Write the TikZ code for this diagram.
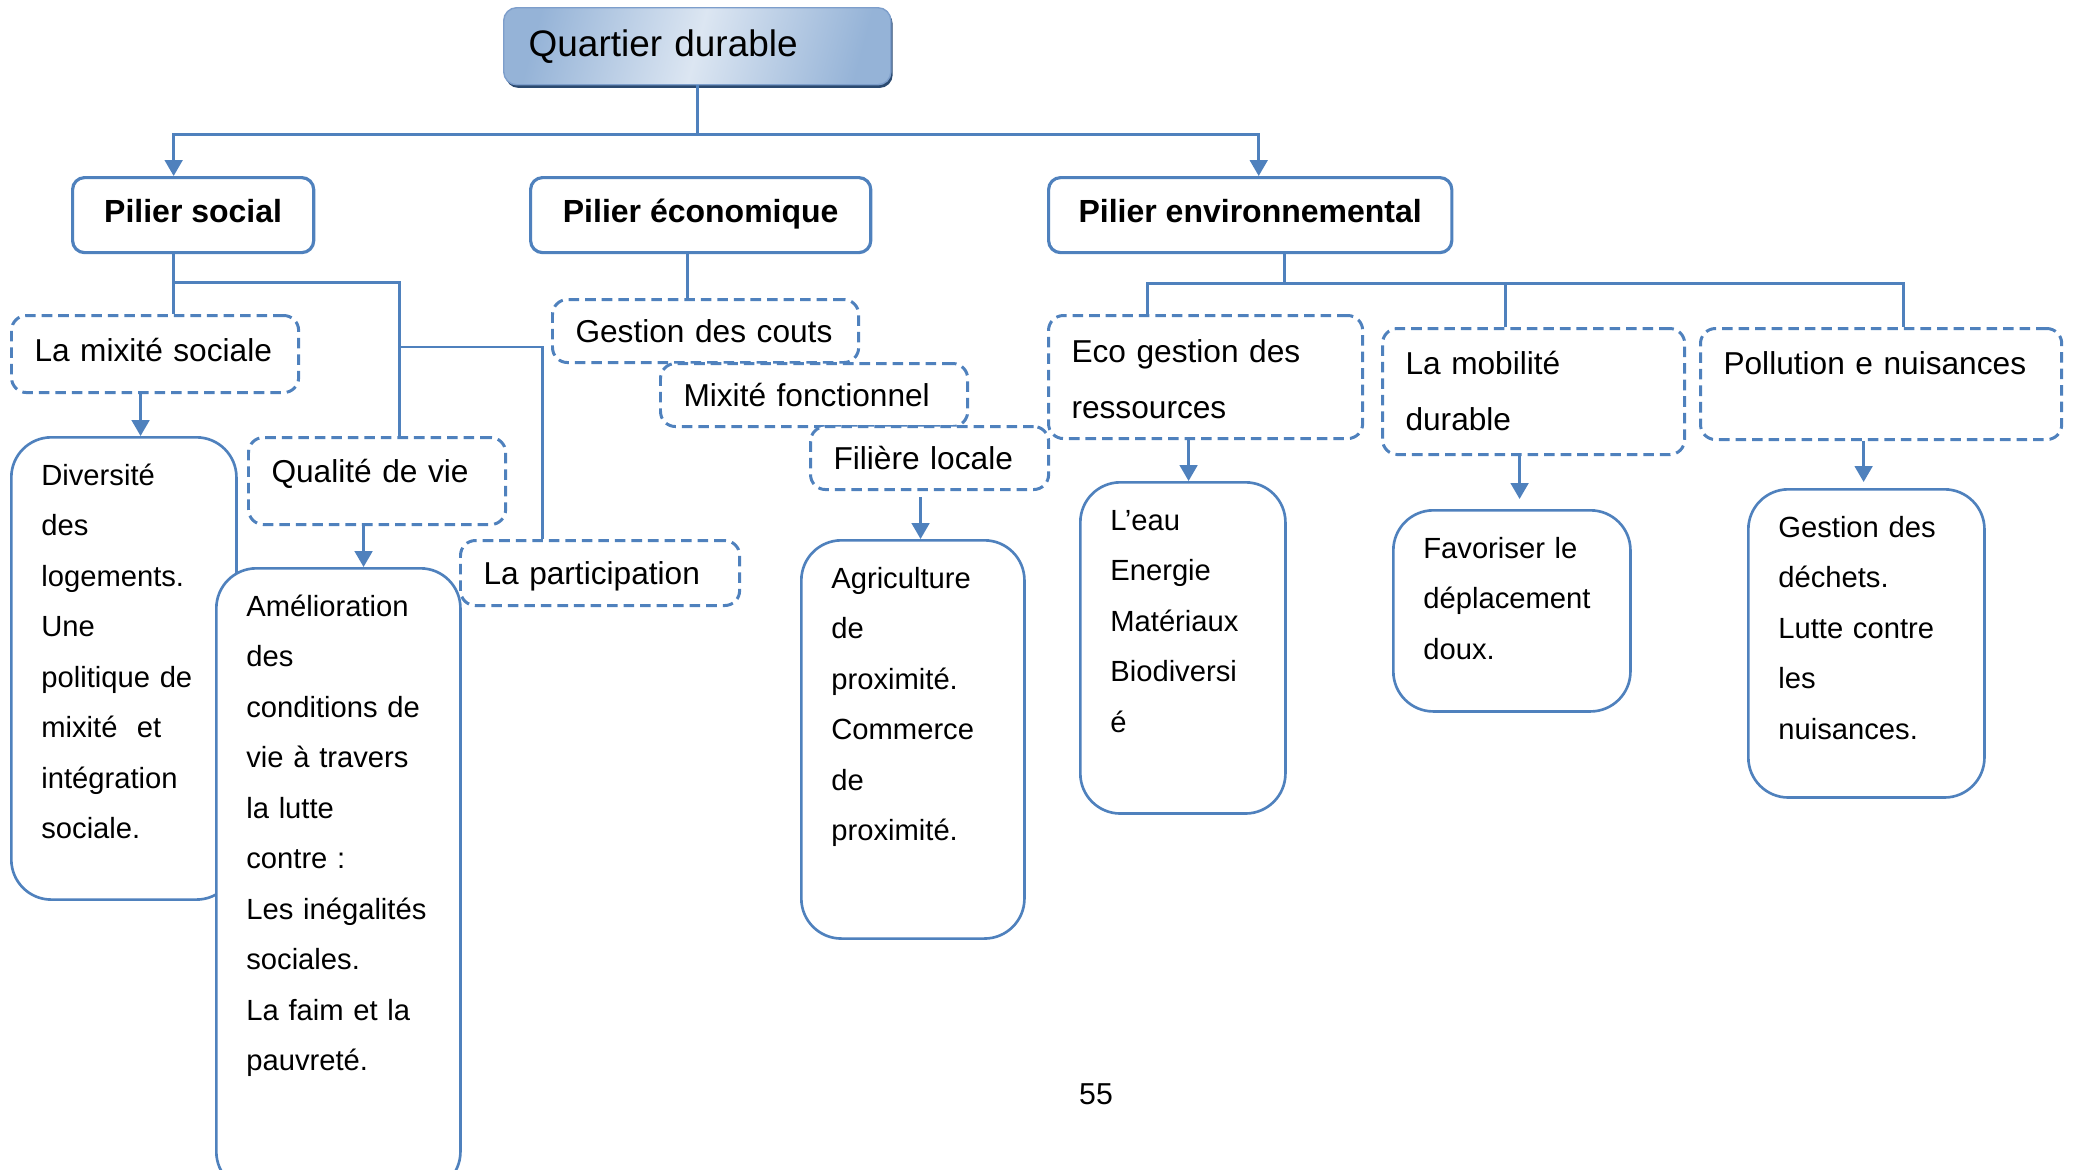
\documentclass[tikz,border=0pt]{standalone}
\usepackage{fontspec}
\setmainfont{Liberation Sans}
\usetikzlibrary{arrows.meta,shadows}
\definecolor{bleuTrait}{HTML}{4F81BD}
\definecolor{bleuClair}{HTML}{DCE6F2}
\definecolor{bleuFonce}{HTML}{95B3D7}
\definecolor{bleuOmbre}{HTML}{2B4A70}
\definecolor{bleuBord}{HTML}{7D9ECB}

\begin{document}
\begin{tikzpicture}[x=0.01cm,y=-0.01cm,
  titre/.style={draw=bleuBord,line width=0.4pt,rounded corners=0.13cm,
    left color=bleuFonce,right color=bleuFonce,middle color=bleuClair,shading angle=75,
    drop shadow={shadow xshift=0.5pt,shadow yshift=-0.9pt,fill=bleuOmbre,opacity=1},
    anchor=north west,align=left,inner xsep=0.25cm,
    font=\fontsize{10.5}{12}\selectfont},
  pilier/.style={draw=bleuTrait,line width=0.9pt,rounded corners=0.12cm,fill=white,
    anchor=north west,inner sep=0pt,text height=6.8pt,text depth=2.5pt,
    font=\fontsize{9.1}{10}\selectfont\bfseries},
  tiret/.style={draw=bleuTrait,line width=0.85pt,dash pattern=on 3pt off 1.7pt,
    rounded corners=0.15cm,fill=white,anchor=north west,align=left,
    inner xsep=0.23cm,inner ysep=0pt,text height=6.5pt,text depth=0pt,
    font=\fontsize{9}{15.8}\selectfont},
  boite/.style={draw=bleuTrait,line width=0.75pt,rounded corners=0.4cm,fill=white,
    anchor=north west,align=left,inner xsep=0.3cm,inner ysep=0.25cm,text height=0.23cm,
    font=\fontsize{8.3}{14.35}\selectfont},
  lien/.style={draw=bleuTrait,line width=0.75pt},
  fleche/.style={lien,-{Triangle[width=5pt,length=4.5pt]}}]
\useasboundingbox (0,0) rectangle (2073,1169);
\clip (0,0) rectangle (2073,1169);

\node[titre,text width=3.37cm,minimum height=0.77cm] (quart) at (503,7) {Quartier durable};

\node[pilier,minimum width=2.41cm,minimum height=0.75cm] (social) at (71,176) {Pilier social};
\node[pilier,minimum width=3.40cm,minimum height=0.75cm] (eco) at (529,176) {Pilier économique};
\node[pilier,minimum width=4.03cm,minimum height=0.75cm] (env) at (1047,176) {Pilier environnemental};

\node[tiret,text width=2.41cm,minimum height=0.77cm,text depth=2.5pt] (mixite) at (10,314) {La mixité sociale};
\node[boite,text width=1.65cm,text depth=3.89cm] (divers) at (10,436)
  {Diversité\\des\\logements.\\Une\\politique de\\mixité \ et\\intégration\\sociale.};
\node[tiret,text width=2.11cm,minimum height=0.87cm,text depth=5.5pt] (qualite) at (247,436) {Qualité de vie};
\node[boite,text width=1.84cm,text depth=5.5cm] (amelio) at (215,567)
  {Amélioration\\des\\conditions de\\vie à travers\\la lutte\\contre :\\Les inégalités\\sociales.\\La faim et la\\pauvreté.};
\node[tiret,text width=2.33cm,minimum height=0.65cm] (particip) at (459,539) {La participation};

\node[tiret,text width=2.60cm,minimum height=0.63cm] (couts) at (551,298) {Gestion des couts};
\node[tiret,text width=2.61cm,minimum height=0.63cm] (mixfonc) at (659,362) {Mixité fonctionnel};
\node[tiret,text width=1.92cm,minimum height=0.63cm] (filiere) at (809,425) {Filière locale};
\node[boite,text width=1.63cm,text depth=3.25cm] (agri) at (800,539)
  {Agriculture\\de\\proximité.\\Commerce\\de\\proximité.};

\node[tiret,text width=2.68cm,minimum height=1.23cm,text depth=14.6pt] (ecoges) at (1047,314) {Eco gestion des\\ressources};
\node[tiret,text width=2.56cm,minimum height=1.26cm,text depth=16pt] (mobil) at (1381,327) {La mobilité\\durable};
\node[tiret,text width=3.15cm,minimum height=1.11cm,text depth=11.7pt] (pollu) at (1699,327) {Pollution e nuisances};
\node[boite,text width=1.45cm,text depth=2.58cm] (eau) at (1079,481)
  {L’eau\\Energie\\Matériaux\\Biodiversi\\é};
\node[boite,text width=1.77cm,text depth=1.28cm] (favor) at (1392,509)
  {Favoriser le\\déplacement\\doux.};
\node[boite,text width=1.76cm,text depth=2.35cm] (dechets) at (1747,488)
  {Gestion des\\déchets.\\Lutte contre\\les\\nuisances.};

\node[font=\fontsize{8.6}{10}\selectfont] (numPage) at (1096,1094) {55};

\draw[fleche] (quart.south) -- ++(0,49) -| ([xshift=-0.195cm]social.north);
\draw[fleche] (quart.south) -- ++(0,49) -| ([xshift=0.085cm]env.north);

\draw[lien] ([xshift=-0.195cm]social.south) -- ([xshift=-0.195cm]social.south |- mixite.north);
\draw[lien] ([xshift=-0.195cm]social.south) ++(0,28) -| ([xshift=0.225cm]qualite.north);
\draw[lien] ([xshift=0.225cm]qualite.north) ++(0,-89) -| ([xshift=-0.575cm]particip.north);
\draw[fleche] ([xshift=-0.145cm]mixite.south) -- ([xshift=-0.145cm]mixite.south |- divers.north);
\draw[fleche] ([xshift=-0.135cm]qualite.south) -- ([xshift=-0.135cm]qualite.south |- amelio.north);

\draw[lien] ([xshift=-0.13cm]eco.south) -- ([xshift=-0.13cm]eco.south |- couts.north);
\draw[fleche,shorten <=0.06cm] ([xshift=-0.09cm]filiere.south) -- ([xshift=-0.09cm]filiere.south |- agri.north);

\coordinate (barreEnv) at ([xshift=0.345cm,yshift=-0.29cm]env.south);
\draw[lien] ([xshift=0.345cm]env.south) -- (barreEnv);
\draw[lien] ([xshift=-0.58cm]ecoges.north) |- (barreEnv) -| ([xshift=0.225cm]pollu.north);
\draw[lien] ([xshift=-0.28cm]mobil.north) -- ([xshift=-0.28cm]mobil.north |- barreEnv);
\draw[fleche] ([xshift=-0.17cm]ecoges.south) -- ([xshift=-0.17cm]ecoges.south |- eau.north);
\draw[fleche,shorten >=0.1cm] ([xshift=-0.14cm]mobil.south) -- ([xshift=-0.14cm]mobil.south |- favor.north);
\draw[fleche,shorten >=0.06cm] ([xshift=-0.175cm]pollu.south) -- ([xshift=-0.175cm]pollu.south |- dechets.north);
\end{tikzpicture}
\end{document}
